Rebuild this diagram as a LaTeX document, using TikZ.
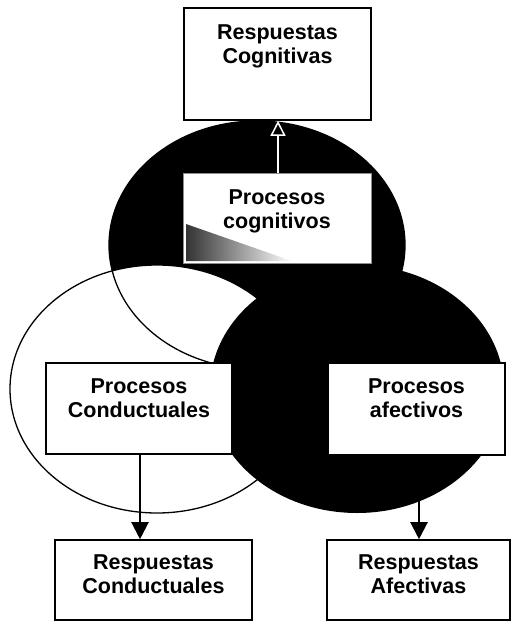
\documentclass[tikz,border=0pt]{standalone}
\usepackage{fontspec}
\setmainfont{Liberation Sans}
\usetikzlibrary{arrows.meta}
\begin{document}
\begin{tikzpicture}[x=1pt,y=-1pt,
  box/.style={draw=black, line width=1.6pt, fill=white, inner sep=0pt},
  lbl/.style={font=\bfseries\fontsize{21.5}{24}\selectfont, align=center, inner sep=0pt, anchor=north},
  arr/.style={line width=2.2pt, -{Triangle[length=17pt,width=17pt]}},
  ring/.style={line width=1.3pt}]
\useasboundingbox (0,0) rectangle (511,623);
% Venn ellipses
\fill[black] (257,245) ellipse [x radius=148pt, y radius=124pt];
\draw[ring, fill=white] (157,389) ellipse [x radius=147pt, y radius=124pt];
\draw[ring] (257,245) ellipse [x radius=148pt, y radius=124pt];
\fill[black] (357,389) ellipse [x radius=147pt, y radius=124pt];
% boxes
\node[box, minimum width=187pt, minimum height=112pt] (rc) at (277.5,64) {};
\node[box, draw=black!45, line width=1pt, minimum width=188pt, minimum height=90pt] (pc) at (277,218) {};
\shade[left color=black!80, right color=white] (186,224) -- (186,261) -- (292,261) -- cycle;
\node[box, minimum width=186pt, minimum height=91pt] (pcon) at (139,408.5) {};
\node[box, minimum width=177pt, minimum height=92pt] (paf) at (416.5,409) {};
\node[box, minimum width=197pt, minimum height=80pt] (rcon) at (153.5,580) {};
\node[box, minimum width=183pt, minimum height=80pt] (raf) at (418.5,580) {};
% labels
\node[lbl] (rcl) at ([yshift=-17pt]rc.north) {Respuestas\\Cognitivas};
\node[lbl] (pcl) at ([yshift=-17pt]pc.north) {Procesos\\cognitivos};
\node[lbl] (pconl) at ([yshift=-16pt]pcon.north) {Procesos\\Conductuales};
\node[lbl] (pafl) at ([yshift=-16pt]paf.north) {Procesos\\afectivos};
\node[lbl] (rconl) at ([yshift=-15pt]rcon.north) {Respuestas\\Conductuales};
\node[lbl] (rafl) at ([yshift=-15pt]raf.north) {Respuestas\\Afectivas};
% connectors
\draw[white, line width=1.5pt, -{Triangle[open, length=15pt, width=15pt, line width=1.5pt]}] (pc.north -| 278,0) -- (rc.south -| 278,0);
\draw[arr] (pcon.south -| 140,0) -- (rcon.north -| 140,0);
\draw[arr] (paf.south -| 419,0) -- (raf.north -| 419,0);
\end{tikzpicture}
\end{document}
